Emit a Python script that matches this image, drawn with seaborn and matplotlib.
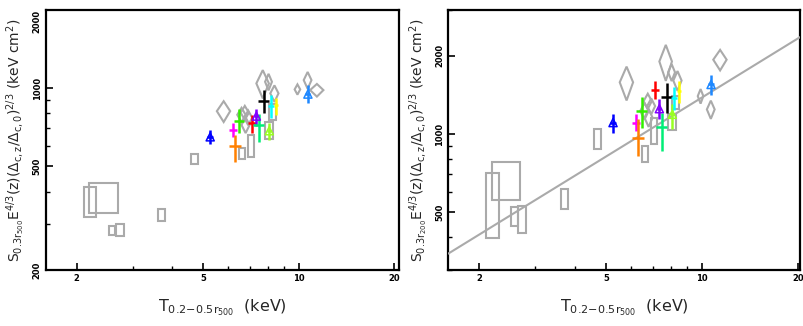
import numpy as np
import pandas as pd
import matplotlib
matplotlib.use('Agg')
import matplotlib.pyplot as plt
import seaborn as sns
from matplotlib.patches import Rectangle, Polygon
from matplotlib.ticker import FixedLocator, NullFormatter

# ---- data ----
# gray boxes (T range, S500 range, S200 range)
box_t_lo = [2.19, 2.10, 2.52, 2.65, 3.60, 4.58, 6.50, 6.90, 7.80, 8.03]
box_t_hi = [2.69, 2.30, 2.64, 2.81, 3.79, 4.83, 6.79, 7.20, 8.28, 8.47]
box_s500_lo = [330, 320, 273, 270, 309, 511, 534, 545, 637, 754]
box_s500_hi = [431, 418, 295, 300, 342, 557, 587, 660, 743, 873]
box_s200_lo = [557, 399, 442, 416, 515, 879, 777, 919, 1036, 1243]
box_s200_hi = [777, 711, 526, 530, 614, 1049, 900, 1156, 1190, 1398]

# gray diamonds (T, half width, S500, half height, S200, half height)
dia_t = [5.80, 6.60, 6.76, 6.93, 6.80, 7.70, 8.03, 8.38, 9.90, 10.66, 11.40]
dia_dt = [0.28, 0.20, 0.20, 0.20, 0.20, 0.35, 0.20, 0.25, 0.20, 0.30, 0.55]
dia_s500 = [816, 790, 805, 770, 722, 1043, 1058, 955, 989, 1074, 983]
dia_ds500 = [75, 50, 50, 50, 50, 130, 77, 70, 45, 80, 55]
dia_s200 = [1580, 1225, 1338, 1280, 1155, 1900, 1727, 1605, 1398, 1243, 1930]
dia_ds200 = [235, 90, 90, 90, 90, 300, 130, 140, 90, 100, 175]

# coloured clusters
pt_color = ['#0000ff', '#ff00ff', '#ff8000', '#33ee00', '#ff0000', '#8000ff',
            '#00ee77', '#000000', '#99ff22', '#00ffff', '#ffff00', '#1e88ff']
pt_tri = [True, False, False, False, False, True, False, False, True, False, False, True]
pt_t = [5.26, 6.22, 6.31, 6.48, 7.14, 7.35, 7.47, 7.76, 8.07, 8.16, 8.45, 10.68]
pt_dt = [0.12, 0.17, 0.28, 0.25, 0.20, 0.10, 0.30, 0.30, 0.12, 0.18, 0.12, 0.20]
pt_s500 = [650, 690, 599, 749, 732, 781, 721, 894, 686, 853, 859, 949]
pt_s500_lo = [610, 650, 521, 670, 670, 718, 622, 804, 632, 766, 786, 880]
pt_s500_hi = [693, 732, 660, 828, 788, 832, 797, 983, 732, 940, 914, 1027]
pt_s200 = [1106, 1106, 969, 1225, 1474, 1251, 1067, 1390, 1190, 1378, 1460, 1550]
pt_s200_lo = [1012, 1027, 824, 1058, 1358, 1138, 861, 1207, 1042, 1235, 1319, 1410]
pt_s200_hi = [1197, 1190, 1138, 1386, 1596, 1358, 1207, 1574, 1299, 1518, 1605, 1692]

# best-fit power law in right panel: S = norm * (T/5)^slope
fit_norm = 819
fit_slope = 0.754
fit_t = [1.6, 20.3]

x_ticks = [2, 5, 10, 20]
y_ticks_500 = [200, 500, 1000, 2000]
y_ticks_200 = [500, 1000, 2000]

# ---- plotting ----
sns.set_theme(style="ticks")
plt.rcParams['font.family'] = ['DejaVu Sans']
plt.rcParams['mathtext.default'] = 'regular'
plt.rcParams['mathtext.fontset'] = 'dejavusans'

fig = plt.figure(figsize=(8.04, 3.26), dpi=100)
ax1 = fig.add_axes([0.0572, 0.1718, 0.4385, 0.798])
ax2 = fig.add_axes([0.5576, 0.1718, 0.4374, 0.798])

gray = '#aaaaaa'


def draw_panel(ax, s_box_lo, s_box_hi, s_dia, ds_dia, s_pt, s_lo, s_hi):
    for t0, t1, y0, y1 in zip(box_t_lo, box_t_hi, s_box_lo, s_box_hi):
        ax.add_patch(Rectangle((t0, y0), t1 - t0, y1 - y0, fill=False,
                               edgecolor=gray, lw=1.5, zorder=2))
    for t, dt, s, ds in zip(dia_t, dia_dt, s_dia, ds_dia):
        verts = [(t - dt, s), (t, s + ds), (t + dt, s), (t, s - ds)]
        ax.add_patch(Polygon(verts, closed=True, fill=False,
                             edgecolor=gray, lw=1.5, zorder=2))
    for i in range(len(pt_t)):
        ax.errorbar(pt_t[i], s_pt[i], xerr=pt_dt[i],
                    yerr=[[s_pt[i] - s_lo[i]], [s_hi[i] - s_pt[i]]],
                    fmt='none', ecolor=pt_color[i], elinewidth=1.8,
                    capsize=0, zorder=4)
        if pt_tri[i]:
            sns.scatterplot(x=[pt_t[i]], y=[s_pt[i]], marker='^', s=34,
                            facecolor='none', edgecolor=pt_color[i],
                            linewidth=1.1, legend=False, ax=ax, zorder=5)


draw_panel(ax1, box_s500_lo, box_s500_hi, dia_s500, dia_ds500,
           pt_s500, pt_s500_lo, pt_s500_hi)
draw_panel(ax2, box_s200_lo, box_s200_hi, dia_s200, dia_ds200,
           pt_s200, pt_s200_lo, pt_s200_hi)

fit_df = pd.DataFrame({'T': fit_t})
fit_df['S'] = fit_norm * (fit_df['T'] / 5.0) ** fit_slope
sns.lineplot(data=fit_df, x='T', y='S', color=gray, lw=1.5, ax=ax2, zorder=3)

for ax, yt, ylim, xlim in [(ax1, y_ticks_500, (200, 2000), (1.6, 20.6)),
                           (ax2, y_ticks_200, (300, 3000), (1.6, 20.3))]:
    ax.set_xscale('log')
    ax.set_yscale('log')
    ax.set_xlim(*xlim)
    ax.set_ylim(*ylim)
    ax.xaxis.set_major_locator(FixedLocator(x_ticks))
    ax.set_xticklabels([str(v) for v in x_ticks])
    ax.xaxis.set_minor_locator(FixedLocator([3, 4, 6, 7, 8, 9]))
    ax.xaxis.set_minor_formatter(NullFormatter())
    ax.yaxis.set_major_locator(FixedLocator(yt))
    ax.set_yticklabels([str(v) for v in yt], rotation=90, va='center')
    minors = [v for v in [300, 400, 600, 700, 800, 900, 3000] if ylim[0] <= v <= ylim[1]]
    ax.yaxis.set_minor_locator(FixedLocator(minors))
    ax.yaxis.set_minor_formatter(NullFormatter())
    ax.tick_params(which='both', direction='in', colors='black', labelsize=6, pad=3)
    ax.tick_params(which='major', length=5, width=1.2)
    ax.tick_params(which='minor', length=3, width=1.0)
    for lab in ax.get_xticklabels() + ax.get_yticklabels():
        lab.set_fontweight('bold')
    for sp in ax.spines.values():
        sp.set_linewidth(1.6)
        sp.set_color('black')
    ax.set_xlabel(r'$T_{0.2\!-\!0.5r_{500}}$  (keV)', fontsize=11.5, labelpad=10)
    ax.set_ylabel('')

# keep the top "2000" label inside the canvas
ax1.get_yticklabels()[-1].set_va('top')

ax1.set_ylabel(r'$S_{0.3r_{500}}E^{4/3}(z)(\Delta_{c,z}/\Delta_{c,0})^{2/3}$ (keV cm$^2$)',
               fontsize=10, labelpad=4)
ax2.set_ylabel(r'$S_{0.3r_{200}}E^{4/3}(z)(\Delta_{c,z}/\Delta_{c,0})^{2/3}$ (keV cm$^2$)',
               fontsize=10, labelpad=4)

fig.savefig('out.png', dpi=100)
